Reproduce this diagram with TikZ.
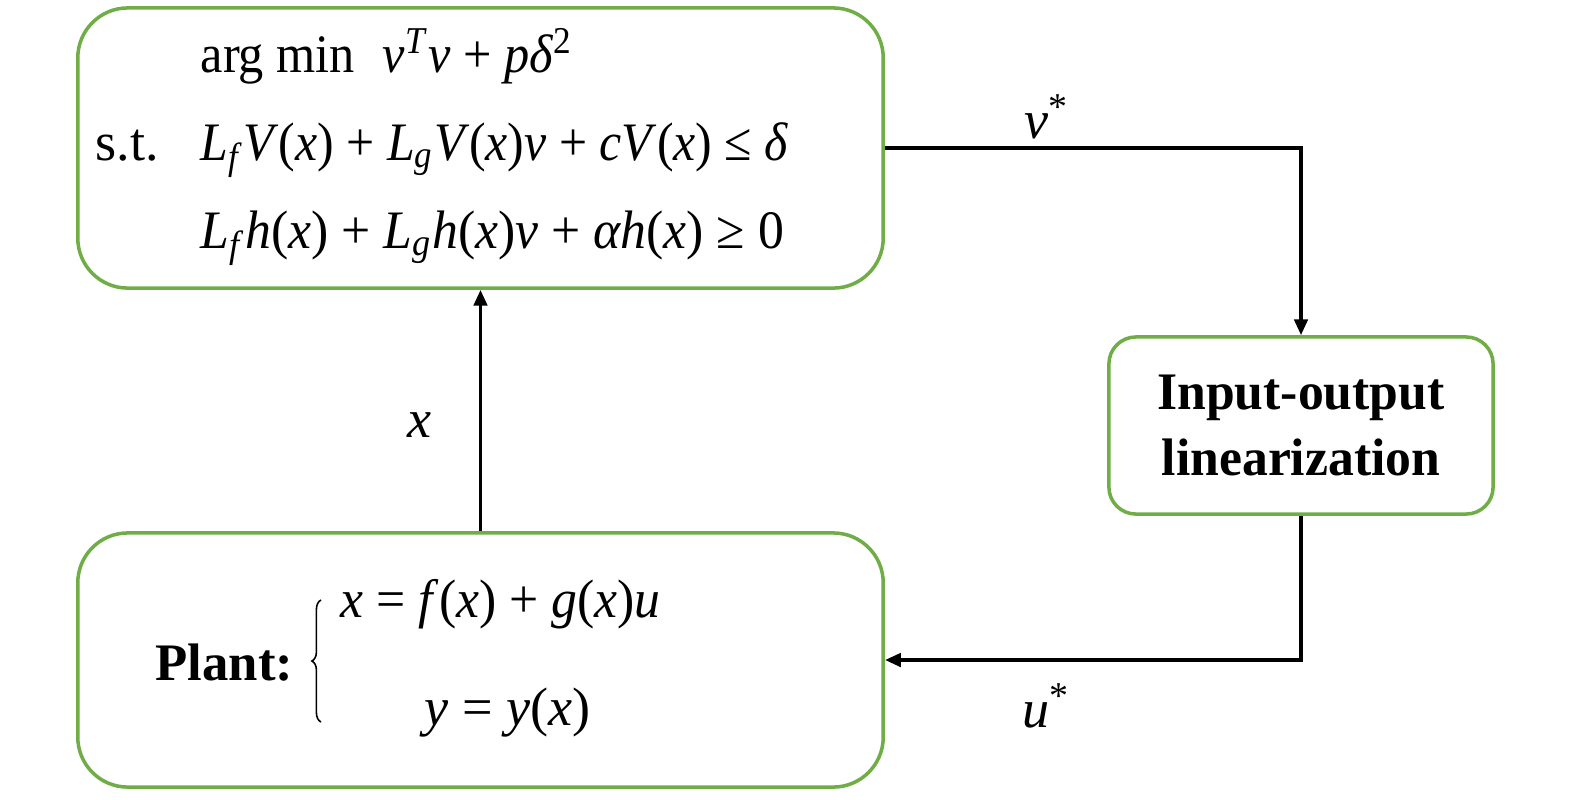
\documentclass[tikz,border=0pt]{standalone}
\usepackage{fontspec}
\usepackage{graphicx}
\setmainfont{Liberation Serif}
\usetikzlibrary{arrows.meta,decorations.pathreplacing}
\definecolor{boxgreen}{HTML}{70AD47}
\newcommand\vi[1]{\textit{#1}}
\newcommand\cond[2]{\scalebox{#1}[1]{#2}}
\tikzset{
  gbox/.style={draw=boxgreen,line width=1pt,rectangle,inner sep=0pt},
  arr/.style={line width=1pt,-{Triangle[length=4.5pt,width=3.8pt]}},
  eq/.style={inner sep=0pt,anchor=base west,font=\fontsize{15.4}{18}\selectfont},
  bold/.style={inner sep=0pt,font=\fontsize{15}{18}\selectfont\bfseries},
}
\begin{document}
\begin{tikzpicture}[x=0.01cm,y=-0.01cm]
\useasboundingbox (0,0) rectangle (1575,799);
% boxes
\node[gbox,minimum width=8.05cm,minimum height=2.80cm,rounded corners=0.5cm] (opt) at (480.5,148) {};
\node[gbox,minimum width=3.84cm,minimum height=1.77cm,rounded corners=0.27cm] (io) at (1301,425.5) {};
\node[gbox,minimum width=8.05cm,minimum height=2.54cm,rounded corners=0.5cm] (plant) at (480.5,660) {};
% optimisation text
\node[eq] (l1) at (200,72) {\cond{0.93}{arg min\hspace{0.55em}\vi{v}\textsuperscript{\vi{T}}\vi{v} + \vi{pδ}\textsuperscript{2}}};
\node[eq] (st) at (95,160) {s.t.};
\node[eq] (l2) at (200,160) {\cond{0.92}{\vi{L}\textsubscript{\vi{f}}\vi{V}(\vi{x}) + \vi{L}\textsubscript{\vi{g}}\vi{V}(\vi{x})\vi{v} + \vi{cV}(\vi{x}) ≤ \vi{δ}}};
\node[eq] (l3) at (200,248) {\cond{0.955}{\vi{L}\textsubscript{\vi{f}}\vi{h}(\vi{x}) + \vi{L}\textsubscript{\vi{g}}\vi{h}(\vi{x})\vi{v} + \vi{αh}(\vi{x}) ≥ 0}};
% io text
\node[bold,align=center] (iot) at (io.center) {\cond{0.98}{Input-output}\\[1pt]\cond{0.98}{linearization}};
% plant text
\node[bold,anchor=base west] (pl) at (155,680) {Plant:};
\coordinate (bb) at (321,722);
\coordinate (bt) at (321,600);
\draw[line width=0.45pt,decorate,decoration={brace,amplitude=2.6pt}] (bb) -- (bt);
\node[eq] (p1) at (340,617) {\cond{0.955}{\vi{x} = \vi{f}(\vi{x}) + \vi{g}(\vi{x})\vi{u}}};
\node[eq] (p2) at (424,725) {\vi{y} = \vi{y}(\vi{x})};
% connectors
\draw[arr] (opt.east) -| (io.north);
\draw[arr] (io.south) |- (plant.east);
\draw[arr] (plant.north) -- (opt.south);
% labels
\node[eq] (vs) at (1024,138) {\vi{v}\textsuperscript{*}};
\node[eq] (us) at (1022,727) {\vi{u}\textsuperscript{*}};
\node[eq] (xl) at (407,437) {\vi{x}};
\end{tikzpicture}
\end{document}
